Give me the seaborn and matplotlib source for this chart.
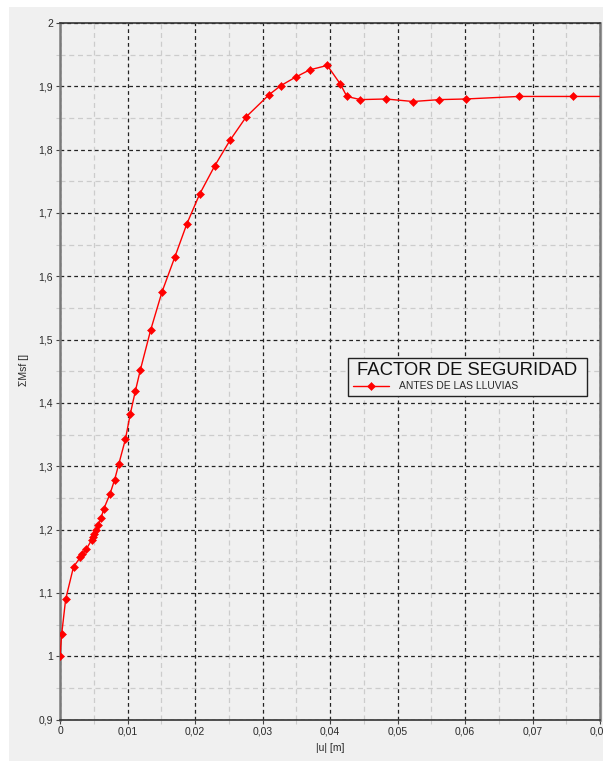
import numpy as np
import pandas as pd
import matplotlib
matplotlib.use("Agg")
import matplotlib.pyplot as plt
from matplotlib.ticker import MultipleLocator, FuncFormatter
from matplotlib.patches import Rectangle
import seaborn as sns

# Safety factor vs. displacement
u_m = [0.0, 0.00025, 0.00084, 0.0020, 0.0030, 0.0033, 0.0039, 0.0047, 0.0049,
       0.0051, 0.0054, 0.0057, 0.0061, 0.0065, 0.0074, 0.0081, 0.0087, 0.0097,
       0.0104, 0.01116, 0.0119, 0.01343, 0.0151, 0.0170, 0.0188, 0.0207,
       0.0229, 0.0252, 0.0276, 0.0310, 0.0327, 0.0349, 0.0370, 0.0396, 0.0415,
       0.0425, 0.0445, 0.0483, 0.0523, 0.0562, 0.0601, 0.0680, 0.0760, 0.0840]
msf = [1.000, 1.035, 1.090, 1.141, 1.156, 1.161, 1.169, 1.184, 1.189,
       1.193, 1.200, 1.207, 1.219, 1.233, 1.256, 1.279, 1.303, 1.343,
       1.382, 1.4185, 1.452, 1.515, 1.575, 1.630, 1.683, 1.730,
       1.774, 1.815, 1.852, 1.887, 1.901, 1.9145, 1.926, 1.933, 1.904,
       1.884, 1.879, 1.880, 1.876, 1.879, 1.880, 1.884, 1.884, 1.884]
series_name = "ANTES DE LAS LLUVIAS"
legend_title = "FACTOR DE SEGURIDAD"
x_label = "|u| [m]"
y_label = "\u03a3Msf []"

df = pd.DataFrame({"u": u_m, "msf": msf, "serie": series_name})

sns.set_style("white")
plt.rcParams["font.family"] = ["Liberation Sans", "DejaVu Sans"]

W, H = 603, 761
fig = plt.figure(figsize=(W / 100, H / 100), dpi=100, facecolor="white")
bg = "#f0f0f0"
fig.patches.append(Rectangle((9 / W, 0), 1 - 9 / W, 1 - 7 / H,
                             transform=fig.transFigure, facecolor=bg,
                             edgecolor="none", zorder=-10))

left, right = 60 / W, 600 / W
bottom, top = (H - 719.5) / H, (H - 23) / H
ax = fig.add_axes([left, bottom, right - left, top - bottom])
ax.set_zorder(5)
ax.set_facecolor(bg)

sns.lineplot(data=df, x="u", y="msf", hue="serie", sort=False,
             palette=["#ff0000"], marker="D", markersize=3.8,
             markeredgewidth=0.4, markeredgecolor="#ff0000",
             linewidth=1.0, ax=ax, zorder=5)

ax.set_xlim(0, 0.08)
ax.set_ylim(0.9, 2.0)
ax.xaxis.set_major_locator(MultipleLocator(0.01))
ax.xaxis.set_minor_locator(MultipleLocator(0.005))
ax.yaxis.set_major_locator(MultipleLocator(0.1))
ax.yaxis.set_minor_locator(MultipleLocator(0.05))


def comma_fmt(v, pos):
    s = f"{round(v, 6):g}"
    return s.replace(".", ",")


ax.xaxis.set_major_formatter(FuncFormatter(comma_fmt))
ax.yaxis.set_major_formatter(FuncFormatter(comma_fmt))

ax.grid(which="major", color="#222222", linestyle=(0, (3, 2.5)), linewidth=0.9)
ax.grid(which="minor", color="#cccccc", linestyle=(0, (4, 3)), linewidth=0.9)
ax.set_axisbelow(True)

ax.tick_params(which="major", direction="out", length=3, width=0.8,
               color="#444444", labelsize=7.5, labelcolor="#2a2a2a", pad=2,
               left=True, bottom=True)
ax.tick_params(which="minor", direction="out", length=3, width=0.8,
               color="#cccccc", left=True, bottom=True)

for side in ("top", "bottom"):
    ax.spines[side].set_color("#333333")
    ax.spines[side].set_linewidth(1.2)
for side in ("left", "right"):
    ax.spines[side].set_color("#7a7a7a")
    ax.spines[side].set_linewidth(1.8)

ax.set_xlabel(x_label, fontsize=7.5, color="#2a2a2a")
ax.set_ylabel(y_label, fontsize=7.5, color="#2a2a2a")
ax.xaxis.set_label_coords(0.5, -0.041)
ax.yaxis.set_label_coords(-0.067, 0.502)
ax.xaxis.label.set_va("center")
ax.yaxis.label.set_va("center")

handles, labels = ax.get_legend_handles_labels()
leg = ax.legend(handles, labels, title=legend_title, loc="lower left",
                bbox_to_anchor=(0.5333, 0.4645, 0.4426, 0.057), mode="expand",
                frameon=True, fancybox=False,
                fontsize=7.5, title_fontsize=13.3, handlelength=3.5,
                borderpad=0.45, labelspacing=0.2, handletextpad=0.9,
                borderaxespad=0)
leg.get_frame().set_facecolor(bg)
leg.get_frame().set_edgecolor("#222222")
leg.get_frame().set_linewidth(1.0)
leg.get_frame().set_alpha(1)
leg._legend_box.align = "center"
for t in leg.get_texts():
    t.set_color("#2a2a2a")
leg.get_title().set_color("#111111")

fig.savefig("out.png", dpi=100, facecolor="white")
